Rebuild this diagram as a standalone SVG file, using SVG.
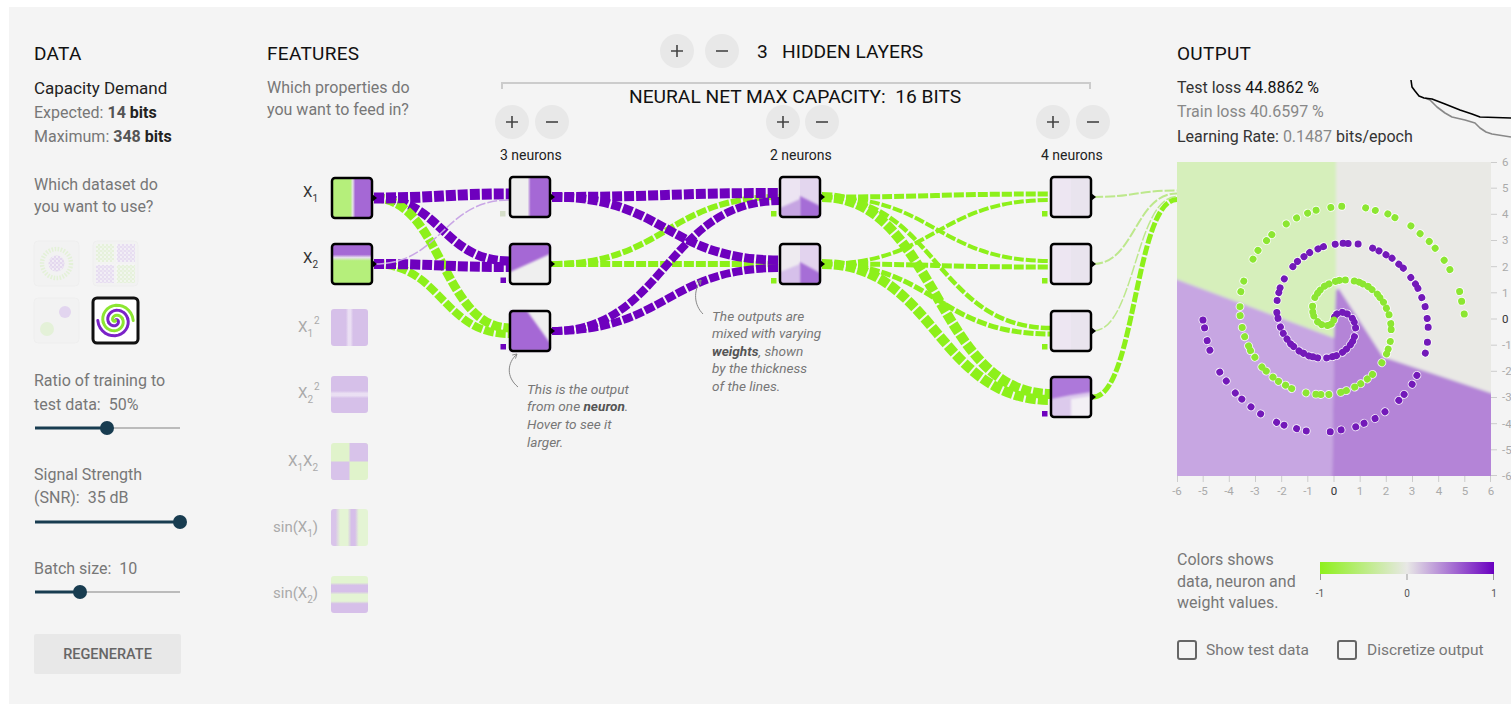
<svg xmlns="http://www.w3.org/2000/svg" width="1511" height="711" viewBox="0 0 1511 711">
<defs>
<style>
text { font-family: Roboto, "Liberation Sans", sans-serif; }
.h { font-size: 19px; fill: #111; letter-spacing: 0.3px; }
.top { font-size: 19.2px; fill: #111; }
.t { font-size: 16px; fill: #777; }
.dk { fill: #222; }
.b { font-weight: 700; }
.lab { font-size: 15px; fill: #333; }
.fl { font-size: 15px; fill: #aaa; }
.sm { font-size: 10px; }
.nn { font-size: 14px; fill: #222; }
.lnk { fill: none; stroke-dasharray: 10 2; }
.pu { stroke: #6e00be; }
.gr { stroke: #8df01a; }
.pale-p { stroke: #c9a6e6; }
.pale-g { stroke: #bde88c; }
.frame { fill: none; stroke: #000; stroke-width: 2.5; }
.btn circle { fill: #e8e8e8; }
.btn path { stroke: #444; stroke-width: 1.6; fill: none; }
.ann { font-size: 13.6px; fill: #777; font-style: italic; }
.ax { font-size: 11.5px; fill: #aaa; }
.ax0 { font-size: 11.5px; fill: #333; }
.tick { stroke: #ccc; stroke-width: 1; }
.track { stroke: #bbb; stroke-width: 2; }
.fill { stroke: #183c50; stroke-width: 3; }
.knob { fill: #183c50; }
.bias-p { fill: #6e00be; }
.bias-g { fill: #8df01a; }
.dA { stroke-dasharray: 0.01 4 0.01 6 0.01 5 0.01 7 0.01 4 0.01 6 0.01 9 0.01 5; }
.dB { stroke-dasharray: 0.01 7 0.01 9 0.01 6 0.01 12 0.01 8 0.01 5 0.01 10 0.01 15 0.01 7 0.01 8; }
.dC { stroke-dasharray: 0.01 12 0.01 9 0.01 15 0.01 11 0.01 24 0.01 10 0.01 13 0.01 8 0.01 18 0.01 12; }
.o1 { stroke-dashoffset: -2; }
.o2 { stroke-dashoffset: -6; }
.cb { fill: none; stroke: #666; stroke-width: 2; }
.leg { font-size: 16px; fill: #777; }
.opt { font-size: 15.5px; fill: #777; }
</style>
<linearGradient id="gX1" x1="0" y1="0" x2="1" y2="0">
<stop offset="0" stop-color="#b5ef7b"/><stop offset="0.46" stop-color="#b5ef7b"/><stop offset="0.52" stop-color="#e6e0ea"/><stop offset="0.58" stop-color="#a568d5"/><stop offset="1" stop-color="#a568d5"/>
</linearGradient>
<linearGradient id="gX2" x1="0" y1="0" x2="0" y2="1">
<stop offset="0" stop-color="#a568d5"/><stop offset="0.26" stop-color="#a568d5"/><stop offset="0.34" stop-color="#e8e0ee"/><stop offset="0.42" stop-color="#b5ef7b"/><stop offset="1" stop-color="#b5ef7b"/>
</linearGradient>
<linearGradient id="gN1" x1="0" y1="0" x2="1" y2="0">
<stop offset="0" stop-color="#efefef"/><stop offset="0.44" stop-color="#efefef"/><stop offset="0.52" stop-color="#a568d5"/><stop offset="1" stop-color="#a568d5"/>
</linearGradient>
<linearGradient id="gSqV" x1="0" y1="0" x2="1" y2="0">
<stop offset="0" stop-color="#d6c0e9"/><stop offset="0.4" stop-color="#d6c0e9"/><stop offset="0.47" stop-color="#eadff3"/><stop offset="0.53" stop-color="#eadff3"/><stop offset="0.6" stop-color="#d6c0e9"/><stop offset="1" stop-color="#d6c0e9"/>
</linearGradient>
<linearGradient id="gSqH" x1="0" y1="0" x2="0" y2="1">
<stop offset="0" stop-color="#d6c0e9"/><stop offset="0.4" stop-color="#d6c0e9"/><stop offset="0.47" stop-color="#eadff3"/><stop offset="0.53" stop-color="#eadff3"/><stop offset="0.6" stop-color="#d6c0e9"/><stop offset="1" stop-color="#d6c0e9"/>
</linearGradient>
<linearGradient id="gSin1" x1="0" y1="0" x2="1" y2="0">
<stop offset="0" stop-color="#d9c4ea"/><stop offset="0.12" stop-color="#d9c4ea"/><stop offset="0.25" stop-color="#e4f4d4"/><stop offset="0.45" stop-color="#e4f4d4"/><stop offset="0.55" stop-color="#d6bfe9"/><stop offset="0.65" stop-color="#d6bfe9"/><stop offset="0.75" stop-color="#e4f4d4"/><stop offset="1" stop-color="#e4f4d4"/>
</linearGradient>
<linearGradient id="gSin2" x1="0" y1="0" x2="0" y2="1">
<stop offset="0" stop-color="#e2f4d0"/><stop offset="0.18" stop-color="#e2f4d0"/><stop offset="0.25" stop-color="#d6bfe9"/><stop offset="0.42" stop-color="#d6bfe9"/><stop offset="0.5" stop-color="#e4f4d4"/><stop offset="0.68" stop-color="#e4f4d4"/><stop offset="0.75" stop-color="#d6bfe9"/><stop offset="1" stop-color="#d6bfe9"/>
</linearGradient>
<linearGradient id="gLegend" x1="0" y1="0" x2="1" y2="0">
<stop offset="0" stop-color="#8ef01c"/><stop offset="0.5" stop-color="#e8e8e6"/><stop offset="1" stop-color="#6a00c0"/>
</linearGradient>
<pattern id="specks" width="4" height="4" patternUnits="userSpaceOnUse">
<circle cx="1" cy="1" r="0.9" fill="#fff"/><circle cx="3" cy="3" r="0.7" fill="#fff"/>
</pattern>
<filter id="soft" x="-5%" y="-5%" width="110%" height="110%"><feGaussianBlur stdDeviation="1.4"/></filter>
<filter id="softer" x="-10%" y="-10%" width="120%" height="120%"><feGaussianBlur stdDeviation="0.9"/></filter>
<clipPath id="plotClip"><rect x="1177" y="162" width="314" height="314"/></clipPath>
<clipPath id="thumbClip"><rect x="95" y="300" width="41" height="41" rx="2"/></clipPath>
<marker id="tip" viewBox="0 0 10 10" refX="8" refY="5" markerWidth="6" markerHeight="6" orient="auto">
<path d="M1,1 L8,5 L1,9" fill="none" stroke="#888" stroke-width="1.5"/>
</marker>
<!-- Archimedean spiral r = 5s, t = 11s, in plot pixels, split in three arcs -->
<path id="sA" fill="none" d="M0,0 L0.57,-2.56 L2.24,-4.75 L4.83,-6.22 L8.09,-6.69 L11.69,-5.96 L15.26,-3.92 L18.37,-0.58 L20.63,3.94 L21.68,9.38 L21.24,15.43 L19.10,21.66 L15.18,27.60 L9.52,32.77 L2.31,36.68 L-6.16,38.89 L-15.46,39.05 L-25.08,36.91 L-34.45,32.34 L-42.93,25.39 L-49.93,16.22"/>
<path id="sB" fill="none" d="M-49.93,16.22 L-54.85,5.19 L-57.29,-7.24 L-56.81,-20.45 L-53.19,-33.76 L-46.40,-46.40 L-36.57,-57.62 L-24.01,-66.69 L-9.21,-72.92 L7.16,-75.79 L24.33,-74.90 L41.42,-70.04 L57.50,-61.24 L71.65,-48.69 L82.98,-32.85 L90.75,-14.37"/>
<path id="sC" fill="none" d="M90.75,-14.37 L94.31,5.93 L93.27,27.10 L87.41,48.06 L76.79,67.70 L61.72,84.95 L42.74,98.78 L20.66,108.30 L-3.54,112.82 L-28.73,111.87 L-53.63,105.25 L-76.97,93.04 L-97.49,75.62 L-114.00,53.65 L-125.53,28.05 L-131.25,0"/>
</defs>

<rect width="1511" height="711" fill="#ffffff"/>
<rect x="9" y="7" width="1502" height="697" fill="#f4f4f4"/>

<!-- DATA column -->
<g id="data-panel">
<text x="34" y="60" class="h">DATA</text>
<text x="34" y="94" style="font-size:17px" class="dk">Capacity Demand</text>
<text x="34" y="118" class="t">Expected: <tspan class="b" fill="#555">14</tspan> <tspan class="b dk">bits</tspan></text>
<text x="34" y="142" class="t">Maximum: <tspan class="b" fill="#555">348</tspan> <tspan class="b dk">bits</tspan></text>
<text x="34" y="190" class="t">Which dataset do</text>
<text x="34" y="212" class="t">you want to use?</text>

<g id="dataset-circle" opacity="0.4">
<rect x="34" y="241" width="45" height="45" rx="4" fill="#f1f1f1" stroke="#e6e6e6"/>
<circle cx="56.5" cy="263.5" r="14.5" fill="none" stroke="#cdeeb0" stroke-width="4.5" stroke-dasharray="1.6 1.4"/>
<circle cx="56.5" cy="263.5" r="8" fill="#cdb0e8"/>
<circle cx="56.5" cy="263.5" r="8" fill="url(#specks)"/>
</g>
<g id="dataset-xor" opacity="0.4">
<rect x="93" y="241" width="45" height="45" rx="4" fill="#f1f1f1" stroke="#e6e6e6"/>
<rect x="96" y="244" width="18" height="18" fill="#d2efb8"/>
<rect x="117" y="244" width="18" height="18" fill="#d4bced"/>
<rect x="96" y="265" width="18" height="18" fill="#d4bced"/>
<rect x="117" y="265" width="18" height="18" fill="#d2efb8"/>
<rect x="96" y="244" width="39" height="39" fill="url(#specks)"/>
</g>
<g id="dataset-gauss" opacity="0.4">
<rect x="34" y="298" width="45" height="45" rx="4" fill="#f1f1f1" stroke="#e6e6e6"/>
<circle cx="65" cy="312" r="6" fill="#c9a8e8"/>
<circle cx="47" cy="329" r="7" fill="#cdeeb0"/>
</g>
<g id="dataset-spiral">
<rect x="93" y="298" width="45" height="45" rx="4" fill="#ffffff" stroke="#111" stroke-width="3"/>
<g clip-path="url(#thumbClip)">
<g transform="translate(115.5 320.5) scale(0.135)" fill="none" stroke-width="22" stroke-linecap="round" stroke-linejoin="round">
<g stroke="#7b22c8"><use href="#sA"/><use href="#sB"/><use href="#sC"/></g>
<g stroke="#8ce632" transform="rotate(180)"><use href="#sA"/><use href="#sB"/><use href="#sC"/></g>
</g>
</g>
</g>

<text x="34" y="386" class="t">Ratio of training to</text>
<text x="34" y="410" class="t" xml:space="preserve">test data:  50%</text>
<g id="slider-ratio">
<line x1="35" y1="428" x2="180" y2="428" class="track"/>
<line x1="35" y1="428" x2="107" y2="428" class="fill"/>
<circle cx="107" cy="428" r="7" class="knob"/>
</g>
<text x="34" y="480" class="t">Signal Strength</text>
<text x="34" y="503" class="t" xml:space="preserve">(SNR):  35 dB</text>
<g id="slider-snr">
<line x1="35" y1="522" x2="180" y2="522" class="fill"/>
<circle cx="180" cy="522" r="7" class="knob"/>
</g>
<text x="34" y="574" class="t" xml:space="preserve">Batch size:  10</text>
<g id="slider-batch">
<line x1="35" y1="592" x2="180" y2="592" class="track"/>
<line x1="35" y1="592" x2="80" y2="592" class="fill"/>
<circle cx="80" cy="592" r="7" class="knob"/>
</g>
<g id="regenerate">
<rect x="34" y="634" width="147" height="40" rx="2" fill="#e8e8e8"/>
<text x="107.5" y="659" text-anchor="middle" style="font-size:14.5px;font-weight:500;fill:#666">REGENERATE</text>
</g>
</g>

<!-- FEATURES column -->
<g id="features-head">
<text x="267" y="60" class="h">FEATURES</text>
<text x="267" y="93" class="t">Which properties do</text>
<text x="267" y="115" class="t">you want to feed in?</text>
</g>

<!-- top controls -->
<g id="layer-controls">
<g class="btn"><circle cx="677" cy="51" r="17"/><path d="M671,51 H683 M677,45 V57"/></g>
<g class="btn"><circle cx="722" cy="51" r="17"/><path d="M716,51 H728"/></g>
<text x="757" y="58" class="top">3</text>
<text x="782" y="58" class="top">HIDDEN LAYERS</text>
<path d="M502,89 V83 H1090 V89" fill="none" stroke="#ccc" stroke-width="2"/>
<text x="629" y="103" class="top" xml:space="preserve">NEURAL NET MAX CAPACITY:  16 BITS</text>
<g class="btn"><circle cx="512" cy="122" r="17"/><path d="M506,122 H518 M512,116 V128"/></g>
<g class="btn"><circle cx="552" cy="122" r="17"/><path d="M546,122 H558"/></g>
<g class="btn"><circle cx="783" cy="122" r="17"/><path d="M777,122 H789 M783,116 V128"/></g>
<g class="btn"><circle cx="822" cy="122" r="17"/><path d="M816,122 H828"/></g>
<g class="btn"><circle cx="1053" cy="122" r="17"/><path d="M1047,122 H1059 M1053,116 V128"/></g>
<g class="btn"><circle cx="1093" cy="122" r="17"/><path d="M1087,122 H1099"/></g>
<text x="500" y="160" class="nn">3 neurons</text>
<text x="770" y="160" class="nn">2 neurons</text>
<text x="1041" y="160" class="nn">4 neurons</text>
</g>

<!-- weighted links -->
<g id="links">
<path class="lnk pu" stroke-width="9" d="M374,198 C442,198 442,261 510,261"/>
<path class="lnk gr" stroke-width="9" d="M374,198 C442,198 442,328 510,328"/>
<path class="lnk gr" stroke-width="8" d="M374,264 C442,264 442,334 510,334"/>
<path class="lnk pu" stroke-width="10" d="M374,264 C442,264 442,267 510,267"/>
<path class="lnk pu" stroke-width="11" d="M374,198 C442,198 442,194 510,194"/>
<path class="lnk pale-p" stroke-width="1.5" d="M374,264 C442,264 442,200 510,200"/>

<path class="lnk gr" stroke-width="6" d="M552,264 C666,264 666,197 780,197"/>
<path class="lnk gr" stroke-width="6" d="M552,264 C666,264 666,264 780,264"/>
<path class="lnk pu" stroke-width="10" d="M552,197 C666,197 666,193 780,193"/>
<path class="lnk pu" stroke-width="9" d="M552,197 C666,197 666,260 780,260"/>
<path class="lnk pu" stroke-width="8" d="M552,331 C666,331 666,201 780,201"/>
<path class="lnk pu" stroke-width="8" d="M552,331 C666,331 666,268 780,268"/>

<path class="lnk gr" stroke-width="5" d="M822,197 C936,197 936,194 1051,194"/>
<path class="lnk gr" stroke-width="4" d="M822,264 C936,264 936,200 1051,200"/>
<path class="lnk gr" stroke-width="4" d="M822,197 C936,197 936,261 1051,261"/>
<path class="lnk gr" stroke-width="5" d="M822,264 C936,264 936,267 1051,267"/>
<path class="lnk gr" stroke-width="4.5" d="M822,197 C936,197 936,328 1051,328"/>
<path class="lnk gr" stroke-width="5" d="M822,264 C936,264 936,334 1051,334"/>
<path class="lnk gr" stroke-width="10" d="M822,197 C936,197 936,394 1051,394"/>
<path class="lnk gr" stroke-width="10" d="M822,264 C936,264 936,400 1051,400"/>

<path class="lnk pale-g" stroke-width="2" d="M1093,197 C1135,197 1135,190.5 1177,190.5"/>
<path class="lnk pale-g" stroke-width="2" d="M1093,264 C1135,264 1135,193.5 1177,193.5"/>
<path class="lnk pale-g" stroke-width="1.5" d="M1093,331 C1135,331 1135,196.5 1177,196.5"/>
<path class="lnk gr" stroke-width="5" d="M1093,397 C1135,397 1135,199.5 1177,199.5"/>
</g>

<!-- input features -->
<g id="node-x1">
<text x="303" y="197" class="lab">X<tspan class="sm" dy="5">1</tspan></text>
<rect x="332" y="178" width="40" height="40" rx="3" fill="url(#gX1)"/>
<rect x="332" y="178" width="40" height="40" rx="3" class="frame"/>
<path d="M372,194 L377,198 L372,202 Z" fill="#000"/>
</g>
<g id="node-x2">
<text x="303" y="263" class="lab">X<tspan class="sm" dy="5">2</tspan></text>
<rect x="332" y="244" width="40" height="40" rx="3" fill="url(#gX2)"/>
<rect x="332" y="244" width="40" height="40" rx="3" class="frame"/>
<path d="M372,260 L377,264 L372,268 Z" fill="#000"/>
</g>
<g id="node-x1sq">
<text x="298" y="332" class="fl">X<tspan class="sm" dy="5">1</tspan><tspan class="sm" dx="1" dy="-13">2</tspan></text>
<rect x="331" y="309" width="37" height="37" rx="3" fill="url(#gSqV)"/>
</g>
<g id="node-x2sq">
<text x="298" y="398" class="fl">X<tspan class="sm" dy="5">2</tspan><tspan class="sm" dx="1" dy="-13">2</tspan></text>
<rect x="331" y="376" width="37" height="37" rx="3" fill="url(#gSqH)"/>
</g>
<g id="node-x1x2">
<text x="288" y="466" class="fl">X<tspan class="sm" dy="5">1</tspan><tspan dy="-5">X</tspan><tspan class="sm" dy="5">2</tspan></text>
<rect x="331" y="443" width="37" height="37" rx="3" fill="#e0f3cb"/>
<path d="M349.5,443 H365 Q368,443 368,446 V461.5 H349.5 Z" fill="#d8c3ea"/>
<path d="M331,461.5 H349.5 V480 H334 Q331,480 331,477 Z" fill="#d8c3ea"/>
</g>
<g id="node-sinx1">
<text x="273" y="532" class="fl">sin(X<tspan class="sm" dy="5">1</tspan><tspan dy="-5">)</tspan></text>
<rect x="331" y="509" width="37" height="37" rx="3" fill="url(#gSin1)"/>
</g>
<g id="node-sinx2">
<text x="273" y="598" class="fl">sin(X<tspan class="sm" dy="5">2</tspan><tspan dy="-5">)</tspan></text>
<rect x="331" y="576" width="37" height="37" rx="3" fill="url(#gSin2)"/>
</g>

<!-- hidden layer 1 -->
<g id="node-h1-1">
<rect x="510" y="177" width="40" height="40" rx="3" fill="url(#gN1)"/>
<rect x="510" y="177" width="40" height="40" rx="3" class="frame"/>
<path d="M550,193 L555,197 L550,201 Z" fill="#000"/>
<rect x="500" y="211" width="5.5" height="5.5" fill="#d5dec9"/>
</g>
<g id="node-h1-2">
<rect x="510" y="244" width="40" height="40" rx="3" fill="#efefef"/>
<path d="M510,244 H550 V254 L510,272 Z" fill="#a568d5" filter="url(#softer)"/>
<rect x="510" y="244" width="40" height="40" rx="3" class="frame"/>
<path d="M550,260 L555,264 L550,268 Z" fill="#000"/>
<rect x="500.5" y="277.5" width="5.5" height="5.5" class="bias-p"/>
</g>
<g id="node-h1-3">
<rect x="510" y="311" width="40" height="40" rx="3" fill="#efefef"/>
<path d="M510,311 H527 L550,343 V351 H510 Z" fill="#a568d5" filter="url(#softer)"/>
<rect x="510" y="311" width="40" height="40" rx="3" class="frame"/>
<path d="M550,327 L555,331 L550,335 Z" fill="#000"/>
<rect x="500.5" y="344" width="5.5" height="5.5" class="bias-p"/>
</g>

<!-- hidden layer 2 -->
<g id="node-h2-1">
<rect x="780" y="177" width="40" height="40" rx="3" fill="#ece4f2"/>
<rect x="800" y="177" width="20" height="40" fill="#e3d6ee"/>
<path d="M780,208 L800,199 V217 H780 Z" fill="#c6a5e2" filter="url(#softer)"/>
<path d="M800,196 L820,206 V217 H800 Z" fill="#a56dd6" filter="url(#softer)"/>
<rect x="780" y="177" width="40" height="40" rx="3" class="frame"/>
<path d="M820,193 L825,197 L820,201 Z" fill="#000"/>
<rect x="771" y="211" width="5.5" height="5.5" class="bias-g"/>
</g>
<g id="node-h2-2">
<rect x="780" y="244" width="40" height="40" rx="3" fill="#eeebf0"/>
<rect x="800" y="244" width="20" height="40" fill="#e2d3ee"/>
<path d="M780,272 L800,264 V284 H780 Z" fill="#d6c0ea" filter="url(#softer)"/>
<path d="M800,262 L820,273 V284 H800 Z" fill="#a66ed6" filter="url(#softer)"/>
<rect x="780" y="244" width="40" height="40" rx="3" class="frame"/>
<path d="M820,260 L825,264 L820,268 Z" fill="#000"/>
<rect x="771" y="278" width="5.5" height="5.5" class="bias-g"/>
</g>

<!-- hidden layer 3 -->
<g id="node-h3-1">
<rect x="1051" y="177" width="40" height="40" rx="3" fill="#ede6f2"/>
<rect x="1071" y="177" width="20" height="40" fill="#e9e4ee"/>
<rect x="1051" y="177" width="40" height="40" rx="3" class="frame"/>
<path d="M1091,193 L1096,197 L1091,201 Z" fill="#000"/>
<rect x="1042" y="211" width="5.5" height="5.5" class="bias-g"/>
</g>
<g id="node-h3-2">
<rect x="1051" y="244" width="40" height="40" rx="3" fill="#ede6f2"/>
<rect x="1071" y="244" width="20" height="40" fill="#e9e4ee"/>
<rect x="1051" y="244" width="40" height="40" rx="3" class="frame"/>
<path d="M1091,260 L1096,264 L1091,268 Z" fill="#000"/>
<rect x="1042" y="278" width="5.5" height="5.5" class="bias-g"/>
</g>
<g id="node-h3-3">
<rect x="1051" y="311" width="40" height="40" rx="3" fill="#ede6f2"/>
<rect x="1071" y="311" width="20" height="40" fill="#e9e4ee"/>
<rect x="1051" y="311" width="40" height="40" rx="3" class="frame"/>
<path d="M1091,327 L1096,331 L1091,335 Z" fill="#000"/>
<rect x="1042" y="344" width="5.5" height="5.5" class="bias-g"/>
</g>
<g id="node-h3-4">
<rect x="1051" y="377" width="40" height="40" rx="3" fill="#dccaec"/>
<path d="M1051,377 H1091 V392 L1071,395 L1051,399 Z" fill="#ad78da" filter="url(#softer)"/>
<path d="M1071,399 L1091,396 V417 H1071 Z" fill="#f3f0f5" filter="url(#softer)"/>
<rect x="1051" y="377" width="40" height="40" rx="3" class="frame"/>
<path d="M1091,393 L1096,397 L1091,401 Z" fill="#000"/>
<rect x="1042" y="411" width="5.5" height="5.5" class="bias-p"/>
</g>

<!-- annotations -->
<g id="note-neuron">
<path d="M518,387 C506,377 507,363 517,354" fill="none" stroke="#888" stroke-width="1" marker-end="url(#tip)"/>
<text x="527" y="394" class="ann">This is the output</text>
<text x="527" y="411" class="ann">from one <tspan class="b" fill="#555">neuron</tspan>.</text>
<text x="527" y="429" class="ann">Hover to see it</text>
<text x="527" y="447" class="ann">larger.</text>
</g>
<g id="note-weights">
<path d="M703,314 C694,305 693,291 701,280" fill="none" stroke="#888" stroke-width="1" marker-end="url(#tip)"/>
<text x="712" y="321" class="ann">The outputs are</text>
<text x="712" y="338" class="ann">mixed with varying</text>
<text x="712" y="356" class="ann"><tspan class="b" fill="#555">weights</tspan>, shown</text>
<text x="712" y="373" class="ann">by the thickness</text>
<text x="712" y="391" class="ann">of the lines.</text>
</g>

<!-- OUTPUT column -->
<g id="output-head">
<text x="1177" y="60" class="h">OUTPUT</text>
<text x="1177" y="93" class="t" style="fill:#333">Test loss <tspan fill="#111">44.8862 %</tspan></text>
<text x="1177" y="117" class="t" style="fill:#888">Train loss 40.6597 %</text>
<text x="1177" y="142" class="t" style="fill:#333">Learning Rate: <tspan fill="#888">0.1487</tspan> bits/epoch</text>
</g>
<g id="loss-chart" fill="none" stroke-width="1.6" stroke-linejoin="round">
<polyline stroke="#888" points="1425,98 1430,100 1437,107 1445,113 1452,117 1465,120 1475,123 1480,128 1486,132 1492,134 1511,137"/>
<polyline stroke="#000" points="1411,80 1412,87 1415,91 1419,96 1424,98 1432,99 1445,104 1460,110 1472,114 1480,117 1511,118"/>
</g>

<g id="output-plot">
<g clip-path="url(#plotClip)">
<g filter="url(#soft)">
<rect x="1170" y="155" width="330" height="330" fill="#e9e9e5"/>
<polygon points="1170,155 1336,155 1336,290 1334,338 1170,277" fill="#d6efbb"/>
<polygon points="1170,277 1334,338 1332,485 1170,485" fill="#c7a6e2"/>
<polygon points="1334,338 1336,290 1339,289 1383,357 1500,396 1500,485 1332,485" fill="#b484d7"/>
</g>
</g>
<g id="spiral-points" transform="translate(1334 319)" fill="none" stroke-linecap="round">
<g stroke="#ffffff" stroke-opacity="0.85" stroke-width="8.8">
<use href="#sA" class="dA o1"/><use href="#sB" class="dB o1"/><use href="#sC" class="dC o1"/>
<g transform="rotate(180)"><use href="#sA" class="dA o2"/><use href="#sB" class="dB o2"/><use href="#sC" class="dC o2"/></g>
</g>
<g stroke="#7319b9" stroke-width="7">
<use href="#sA" class="dA o1"/><use href="#sB" class="dB o1"/><use href="#sC" class="dC o1"/>
</g>
<g stroke="#8ce632" stroke-width="7" transform="rotate(180)">
<use href="#sA" class="dA o2"/><use href="#sB" class="dB o2"/><use href="#sC" class="dC o2"/>
</g>
</g>
<g id="axis-right">
<path class="tick" d="M1491,162.5 H1497 M1491,188.2 H1497 M1491,214.3 H1497 M1491,240.5 H1497 M1491,266.7 H1497 M1491,292.8 H1497 M1491,319 H1497 M1491,345.2 H1497 M1491,371.3 H1497 M1491,397.5 H1497 M1491,423.7 H1497 M1491,449.8 H1497 M1491,475.5 H1497"/>
<text x="1502" y="166" class="ax">6</text>
<text x="1502" y="192" class="ax">5</text>
<text x="1502" y="218" class="ax">4</text>
<text x="1502" y="244" class="ax">3</text>
<text x="1502" y="271" class="ax">2</text>
<text x="1502" y="297" class="ax">1</text>
<text x="1502" y="323" class="ax0">0</text>
<text x="1502" y="349" class="ax">-1</text>
<text x="1502" y="375" class="ax">-2</text>
<text x="1502" y="401" class="ax">-3</text>
<text x="1502" y="428" class="ax">-4</text>
<text x="1502" y="454" class="ax">-5</text>
<text x="1502" y="480" class="ax">-6</text>
</g>
<g id="axis-bottom" text-anchor="middle">
<path class="tick" d="M1177.5,476 V482 M1203.2,476 V482 M1229.3,476 V482 M1255.5,476 V482 M1281.7,476 V482 M1307.8,476 V482 M1334,476 V482 M1360.2,476 V482 M1386.3,476 V482 M1412.5,476 V482 M1438.7,476 V482 M1464.8,476 V482 M1490.5,476 V482"/>
<text x="1177" y="495" class="ax">-6</text>
<text x="1203" y="495" class="ax">-5</text>
<text x="1229" y="495" class="ax">-4</text>
<text x="1255" y="495" class="ax">-3</text>
<text x="1282" y="495" class="ax">-2</text>
<text x="1308" y="495" class="ax">-1</text>
<text x="1334" y="495" class="ax0">0</text>
<text x="1360" y="495" class="ax">1</text>
<text x="1386" y="495" class="ax">2</text>
<text x="1412" y="495" class="ax">3</text>
<text x="1439" y="495" class="ax">4</text>
<text x="1465" y="495" class="ax">5</text>
<text x="1491" y="495" class="ax">6</text>
</g>
</g>

<g id="legend">
<text x="1177" y="565" class="leg">Colors shows</text>
<text x="1177" y="587" class="leg">data, neuron and</text>
<text x="1177" y="608" class="leg">weight values.</text>
<rect x="1320" y="562" width="174" height="12" fill="url(#gLegend)"/>
<path d="M1320.5,574 V580 M1407,574 V580 M1493.5,574 V580" stroke="#999" stroke-width="1"/>
<text x="1320" y="597" text-anchor="middle" style="font-size:10px;fill:#555">-1</text>
<text x="1407" y="597" text-anchor="middle" style="font-size:10px;fill:#555">0</text>
<text x="1494" y="597" text-anchor="middle" style="font-size:10px;fill:#555">1</text>
</g>
<g id="options">
<rect x="1178" y="641" width="18" height="18" rx="2" class="cb"/>
<text x="1206" y="655" class="opt">Show test data</text>
<rect x="1338" y="641" width="18" height="18" rx="2" class="cb"/>
<text x="1367" y="655" class="opt">Discretize output</text>
</g>
</svg>
